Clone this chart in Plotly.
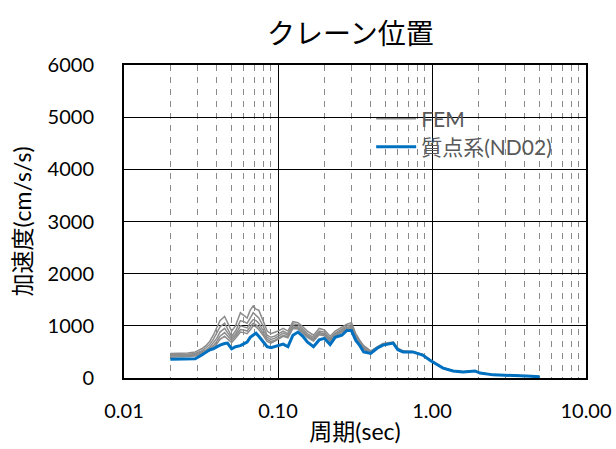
import plotly.graph_objects as go

period = [0.020, 0.023, 0.026, 0.029, 0.032, 0.034, 0.036, 0.038, 0.040, 0.042,
          0.045, 0.047, 0.050, 0.053, 0.057, 0.060, 0.063, 0.066, 0.069, 0.072,
          0.075, 0.080, 0.085, 0.090, 0.095, 0.100, 0.108, 0.116, 0.125, 0.135,
          0.145, 0.155, 0.170, 0.185, 0.200, 0.218, 0.235, 0.260, 0.280, 0.300,
          0.320, 0.340, 0.360, 0.400, 0.440, 0.480, 0.530, 0.560, 0.600, 0.650,
          0.750, 0.870, 0.970, 1.08, 1.18, 1.37, 1.59, 1.90, 2.05, 2.50,
          3.10, 4.10, 5.00]

nd02 = [360, 360, 365, 370, 440, 490, 540, 560, 600, 630,
        660, 670, 560, 600, 620, 650, 690, 780, 830, 860,
        800, 700, 600, 580, 600, 630, 650, 600, 820, 880,
        800, 690, 600, 730, 760, 640, 780, 820, 910, 910,
        720, 620, 500, 470, 570, 630, 650, 670, 540, 500,
        500, 440, 340, 250, 190, 135, 115, 135, 95, 60,
        55, 40, 25]

fem_1 = [470, 470, 480, 500, 560, 620, 700, 820, 950, 1100,
         1180, 1050, 900, 1000, 1250, 1200, 1150, 1300, 1380, 1320,
         1300, 1100, 900, 850, 870, 900, 950, 900, 1080, 1060,
         980, 900, 820, 950, 920, 800, 900, 980, 1030, 1060,
         850, 720, 620, 520, 600, 660, 680, 690, 570, 520,
         510, 450, 350, 255, 195, 140, 118, 138, 97, 62,
         56, 41, 26]
fem_2 = [450, 450, 455, 470, 520, 580, 640, 740, 850, 980,
         1050, 950, 800, 900, 1100, 1080, 1050, 1150, 1250, 1200,
         1150, 1000, 820, 780, 800, 840, 900, 850, 1040, 1020,
         930, 850, 780, 900, 880, 760, 860, 940, 1000, 1020,
         820, 700, 600, 500, 590, 650, 670, 680, 560, 510,
         505, 445, 345, 252, 192, 138, 116, 136, 96, 61,
         55, 40, 25]
fem_3 = [430, 430, 440, 450, 500, 540, 590, 670, 760, 880,
         950, 870, 760, 840, 1000, 980, 960, 1050, 1120, 1100,
         1050, 920, 780, 740, 760, 800, 860, 820, 1000, 980,
         900, 820, 750, 870, 850, 740, 840, 910, 970, 990,
         800, 680, 580, 490, 580, 640, 660, 675, 555, 505,
         502, 442, 343, 251, 191, 137, 115, 135, 95, 60,
         55, 40, 25]
fem_4 = [420, 420, 425, 440, 480, 510, 560, 620, 700, 800,
         870, 800, 720, 800, 930, 920, 900, 980, 1050, 1020,
         980, 860, 740, 700, 720, 760, 820, 790, 970, 960,
         880, 800, 730, 850, 830, 720, 820, 890, 950, 970,
         780, 660, 560, 480, 575, 635, 655, 672, 550, 502,
         500, 441, 341, 250, 190, 136, 115, 135, 95, 60,
         55, 40, 25]
fem_5 = [400, 400, 410, 420, 460, 490, 520, 580, 650, 740,
         800, 750, 680, 760, 880, 870, 850, 920, 1000, 980,
         930, 820, 700, 670, 700, 740, 800, 770, 950, 940,
         860, 780, 710, 830, 810, 700, 800, 870, 930, 950,
         760, 650, 550, 475, 572, 632, 652, 670, 548, 500,
         500, 440, 340, 250, 190, 136, 115, 135, 95, 60,
         55, 40, 25]

fem_series = [fem_1, fem_2, fem_3, fem_4, fem_5]

x_tickvals = [0.01, 0.1, 1, 10]
x_ticktext = ["0.01", "0.10", "1.00", "10.00"]
y_tickvals = [0, 1000, 2000, 3000, 4000, 5000, 6000]
minor_vals = [m * 10 ** e for e in (-2, -1, 0) for m in range(2, 10)]

LAT = "Lato, 'Noto Sans CJK JP', sans-serif"
JP = "'Noto Sans CJK JP', sans-serif"

fig = go.Figure()
for i, s in enumerate(fem_series):
    fig.add_trace(go.Scatter(
        x=period, y=s, mode="lines", name="FEM",
        line=dict(color="#8c8c8c", width=1.5),
        showlegend=(i == 0), legendgroup="fem", legend="legend"))
fig.add_trace(go.Scatter(
    x=period, y=nd02, mode="lines", name="質点系(ND02)",
    line=dict(color="#0070C0", width=3), legend="legend2"))

leg_common = dict(xanchor="left", yanchor="middle", bgcolor="rgba(0,0,0,0)",
                  font=dict(size=21, color="#595959", family=LAT),
                  itemwidth=40)

fig.update_layout(
    width=616, height=449,
    margin=dict(l=124, r=30, t=65, b=71, autoexpand=False),
    paper_bgcolor="white", plot_bgcolor="white",
    font=dict(family=LAT, color="#000000", size=20),
    title=dict(text="クレーン位置", x=0.49, xref="paper", xanchor="center",
               y=1 - 34 / 449, yref="container", yanchor="middle",
               font=dict(size=28, family=JP, color="#000")),
    legend=dict(x=0.535, y=(378 - 119) / 313, **leg_common),
    legend2=dict(x=0.535, y=(378 - 147) / 313, **leg_common),
    showlegend=True,
)
fig.update_xaxes(
    type="log", range=[-2, 1],
    tickvals=x_tickvals, ticktext=x_ticktext, ticks="",
    ticklabelstandoff=14,
    showgrid=True, gridcolor="#000000", gridwidth=1,
    showline=True, linecolor="#000000", linewidth=2, mirror=True,
    minor=dict(tickvals=minor_vals, showgrid=True, gridcolor="#8a8a8a",
               gridwidth=1.4, griddash="6px,6px", ticks=""),
    title=dict(text="周期(sec)", standoff=3,
               font=dict(size=23, family=LAT)),
    tickfont=dict(size=20), zeroline=False, automargin=False,
)
fig.update_yaxes(
    range=[0, 6000], tickvals=y_tickvals, ticks="",
    ticklabelstandoff=24,
    showgrid=True, gridcolor="#000000", gridwidth=1,
    showline=True, linecolor="#000000", linewidth=2, mirror=True,
    title=dict(text="加速度(cm/s/s)", standoff=10,
               font=dict(size=23, family=LAT)),
    tickfont=dict(size=20), zeroline=False, automargin=False,
)

fig.write_html("out.html", config={"displayModeBar": False},
               post_script="document.body.style.margin='0';")
